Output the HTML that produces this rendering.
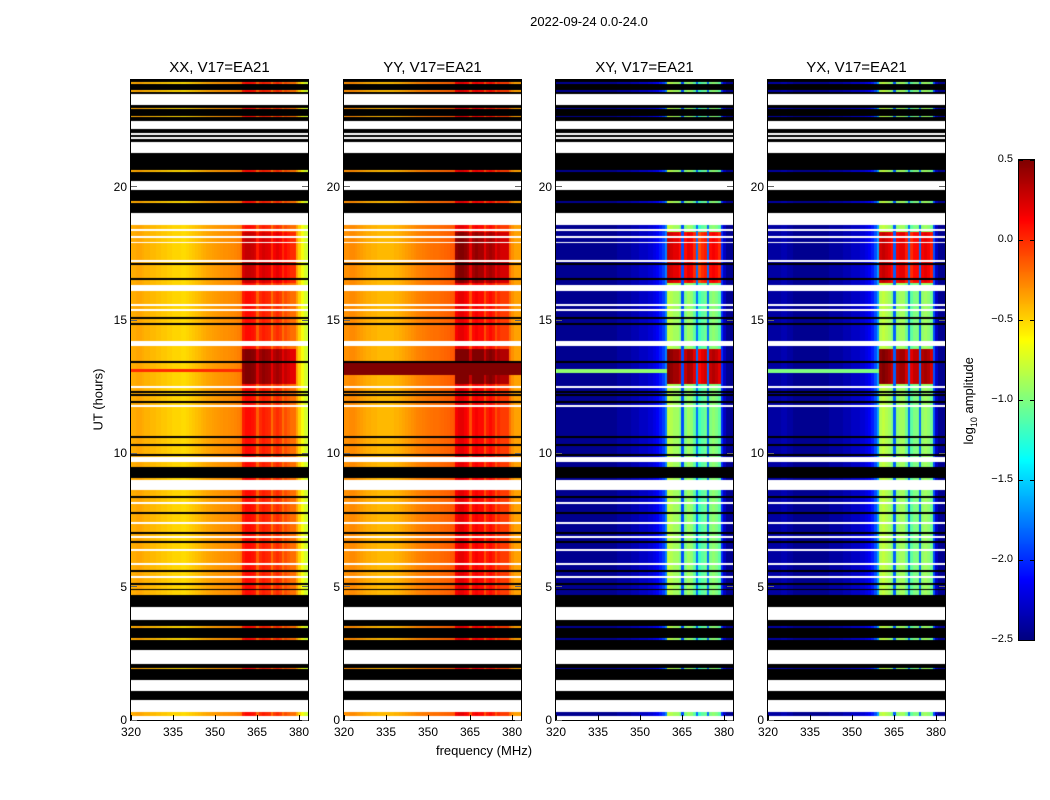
<!DOCTYPE html>
<html><head><meta charset="utf-8">
<style>
body{margin:0;background:#fff;font-family:"Liberation Sans","DejaVu Sans",sans-serif;}
#root{position:relative;width:1050px;height:800px;overflow:hidden;background:#fff;}
.t{position:absolute;white-space:nowrap;color:#000;}
canvas{position:absolute;}
.frame{position:absolute;border:1px solid #000;box-sizing:border-box;}
</style></head>
<body>
<div id="root">
<div class="t" style="left:489px;top:14px;width:200px;text-align:center;font-size:13px;">2022-09-24 0.0-24.0</div>
<div class="t" style="left:48px;top:392px;width:100px;text-align:center;font-size:13px;transform:rotate(-90deg);">UT (hours)</div>
<div class="t" style="left:384px;top:743px;width:200px;text-align:center;font-size:13px;">frequency (MHz)</div>
<div class="t" style="left:910px;top:392px;width:120px;text-align:center;font-size:13px;transform:rotate(-90deg);">log<sub style="font-size:9px">10</sub> amplitude</div>
</div>
<script>
// ---- data ----
const freqStart = 320; // MHz of channel 0, 1 MHz channels
const bandLo = 360, bandHi = 378;
const panelTitles = ["XX, V17=EA21","YY, V17=EA21","XY, V17=EA21","YX, V17=EA21"];
const specXX = [-0.38,-0.38,-0.36,-0.36,-0.38,-0.40,-0.40,-0.42,-0.42,-0.44,-0.44,-0.46,-0.46,-0.48,-0.48,
 -0.5,-0.5,-0.5,-0.52,-0.52,-0.5,-0.48,-0.46,-0.44,-0.42,-0.40,-0.38,-0.36,-0.35,
 -0.34,-0.33,-0.32,-0.31,-0.3,-0.3,-0.29,-0.28,-0.27,-0.25,-0.22,
 0.05,0.1,0.1,0.08,0.05,-0.15,0.0,0.05,0.02,0.0,-0.2,-0.05,0.0,-0.05,-0.2,-0.1,-0.15,-0.2,-0.2,
 -0.35,-0.5,-0.65,-0.75,-0.8];
const specYY = [-0.3,-0.3,-0.28,-0.28,-0.3,-0.32,-0.34,-0.36,-0.38,-0.38,-0.4,-0.4,-0.42,-0.42,-0.42,
 -0.42,-0.42,-0.42,-0.4,-0.4,-0.38,-0.36,-0.34,-0.32,-0.3,-0.28,-0.26,-0.25,-0.24,
 -0.23,-0.22,-0.21,-0.2,-0.2,-0.19,-0.18,-0.17,-0.16,-0.14,-0.12,
 0.15,0.2,0.2,0.15,0.1,-0.1,0.1,0.15,0.1,0.1,-0.1,0.05,0.1,0.05,-0.1,0.0,-0.05,-0.05,-0.05,
 -0.2,-0.3,-0.35,-0.35,-0.35];
const specXY = [-2.45,-2.45,-2.45,-2.45,-2.45,-2.45,-2.45,-2.45,-2.45,-2.45,-2.45,-2.45,-2.45,-2.45,-2.45,
 -2.45,-2.45,-2.45,-2.45,-2.45,-2.45,-2.45,-2.4,-2.4,-2.4,-2.4,-2.4,-2.35,-2.35,
 -2.35,-2.3,-2.3,-2.3,-2.25,-2.25,-2.2,-2.15,-2.05,-1.95,-1.75,
 -0.8,-0.85,-0.9,-0.9,-1.0,-1.9,-1.0,-0.9,-0.95,-1.1,-1.8,-1.2,-1.1,-1.05,-1.8,-1.0,-0.95,-1.0,-1.1,
 -2.0,-2.3,-2.45,-2.45,-2.45];
const specYX = [-2.4,-2.4,-2.4,-2.4,-2.4,-2.35,-2.35,-2.4,-2.4,-2.45,-2.45,-2.45,-2.45,-2.45,-2.45,
 -2.45,-2.45,-2.45,-2.45,-2.45,-2.45,-2.45,-2.4,-2.4,-2.4,-2.4,-2.4,-2.35,-2.35,
 -2.35,-2.3,-2.3,-2.3,-2.25,-2.25,-2.2,-2.15,-2.05,-1.9,-1.65,
 -0.85,-0.8,-0.85,-0.9,-1.0,-1.85,-0.95,-0.9,-0.9,-1.05,-1.8,-1.1,-1.0,-1.0,-1.8,-0.95,-0.9,-0.95,-1.05,
 -1.9,-2.3,-2.45,-2.45,-2.45];
// hot windows (hours) and per-panel boosts of the band region
const hotStart = [16.4, 12.6];
const hotEnd   = [18.3, 13.9];
const hotXX = [0.2, 0.4];
const hotYY = [0.3, 0.4];
const hotXY = [1.1, 1.3];
const hotYX = [1.1, 1.3];
// full-row bright line (hours)
const lineStart = [13.05, 12.95, 13.0, 13.0];
const lineEnd   = [13.15, 13.45, 13.15, 13.15];
const lineLevel = [0.0, 0.5, -0.95, -1.0];
// time segments (hours): k=flagged black, w=no data white, d=data
const segStart = [23.47,23.06,22.46,22.16,21.66,21.26,20.22,19.88,19.0,18.56,
 18.33,18.07,17.87,17.17,17.07,16.5,16.1,15.53,15.34,15.04,14.82,14.03,13.39,12.46,12.27,12.16,11.89,11.75,10.58,10.28,9.91,9.67,9.07,8.62,
 8.33,8.11,7.73,7.36,6.98,6.83,6.64,6.34,5.82,5.56,5.33,5.06,4.86,4.24,3.75,2.6,2.1,1.5,1.1,0.75,0.3,0.0,
 23.86,23.55,22.9,22.6,21.95,21.8,20.55,19.4,4.72,3.45,3.0,2.55,1.9];
const segEnd = [24.0,23.47,23.06,22.46,22.16,21.66,21.26,20.22,19.88,19.0,
 18.41,18.14,17.94,17.24,17.14,16.57,16.3,15.6,15.41,15.11,14.89,14.2,13.46,12.53,12.34,12.23,11.96,11.83,10.65,10.35,9.98,9.86,9.49,9.0,
 8.4,8.18,7.8,7.43,7.05,6.9,6.71,6.41,5.89,5.63,5.4,5.14,4.93,4.69,4.24,3.75,2.6,2.1,1.5,1.1,0.75,0.15,
 23.92,23.61,22.96,22.66,22.0,21.85,20.61,19.46,4.78,3.51,3.06,2.61,1.96];
const segKind = ["k","w","k","w","k","w","k","w","k","w",
 "w","w","w","w","k","k","w","w","w","k","k","w","k","w","k","k","k","w","k","k","k","w","k","w",
 "k","w","k","w","k","w","k","w","w","k","w","k","k","k","w","k","w","k","w","k","w","w",
 "d","d","d","d","w","w","d","d","d","d","d","w","d"];
const xTicks = [320,335,350,365,380];
const yTicks = [0,5,10,15,20];
const cbTicks = [0.5,0.0,-0.5,-1.0,-1.5,-2.0,-2.5];
const cbLabels = ["0.5","0.0","\u22120.5","\u22121.0","\u22121.5","\u22122.0","\u22122.5"];

// ---- layout / scales ----
const root = document.getElementById('root');
const panelLeft = [131,344,556,768];
const PW = 177, PT = 80, PH = 640;
const fMin = 320, fMax = 320 + PW/42*15;
const vMin = -2.5, vMax = 0.5;
function xScale(f){ return (f - fMin)/(fMax - fMin)*PW; }
function yScale(h){ return PH - h/24*PH; }
function jet(v){
  let x = Math.max(0, Math.min(1, (v - vMin)/(vMax - vMin)));
  const c = t => Math.round(255*Math.max(0, Math.min(1, 1.5 - Math.abs(t))));
  return 'rgb('+c(4*x-3)+','+c(4*x-2)+','+c(4*x-1)+')';
}
const specs = [specXX, specYY, specXY, specYX];
const hots = [hotXX, hotYY, hotXY, hotYX];

function kindAt(h){
  let k = 'd';
  for (let i=0;i<segStart.length;i++) if (h>=segStart[i] && h<segEnd[i]) k = segKind[i];
  return k;
}
function addText(txt, name, css){
  const d = document.createElement('div');
  d.className = 't';
  d.textContent = txt;
  
  
  d.style.cssText = css;
  root.appendChild(d);
  return d;
}

for (let p=0;p<4;p++){
  const L = panelLeft[p];
  const cv = document.createElement('canvas');
  cv.width = PW; cv.height = PH;
  cv.style.left = L+'px'; cv.style.top = PT+'px';
  
  
  root.appendChild(cv);
  const ctx = cv.getContext('2d');
  const spec = specs[p], hot = hots[p];
  for (let y=0;y<PH;y++){
    const h = 24 - (y+0.5)/PH*24;
    const k = kindAt(h);
    if (k==='w'){ ctx.fillStyle='#fff'; ctx.fillRect(0,y,PW,1); continue; }
    if (k==='k'){ ctx.fillStyle='#000'; ctx.fillRect(0,y,PW,1); continue; }
    let boost = 0;
    for (let j=0;j<hotStart.length;j++) if (h>=hotStart[j] && h<hotEnd[j]) boost = hot[j];
    const onLine = h>=lineStart[p] && h<lineEnd[p];
    for (let c=0;c<spec.length;c++){
      const f = freqStart + c;
      let v = spec[c];
      if (f>=bandLo && f<=bandHi && v > (p<2 ? -0.5 : -1.5)) v += boost;
      if (onLine && (f<bandLo || p===1)) v = Math.max(v, lineLevel[p]);
      ctx.fillStyle = jet(v);
      const x0 = xScale(f), x1 = xScale(f+1);
      ctx.fillRect(Math.floor(x0), y, Math.ceil(x1)-Math.floor(x0), 1);
    }
  }
  const fr = document.createElement('div');
  fr.className = 'frame';
  
  
  fr.style.cssText = 'left:'+(L-1)+'px;top:'+(PT-1)+'px;width:'+(PW+2)+'px;height:'+(PH+2)+'px;';
  root.appendChild(fr);
  addText(panelTitles[p], 'panel-title-'+(p+1), 'left:'+(L-20)+'px;top:59px;width:'+(PW+40)+'px;text-align:center;font-size:15px;');
  xTicks.forEach(t=>{
    const x = L + xScale(t);
    const tk = document.createElement('div');
    
    
    tk.style.cssText = 'position:absolute;left:'+(x-0.5)+'px;top:'+(PT+PH-5)+'px;width:1px;height:5px;background:#000;';
    root.appendChild(tk);
    addText(String(t), 'x-tick-label', 'left:'+(x-20)+'px;top:'+(PT+PH+5)+'px;width:40px;text-align:center;font-size:12px;');
  });
  yTicks.forEach(t=>{
    const y = PT + yScale(t);
    ['l','r'].forEach(s=>{
      const tk = document.createElement('div');
      
      
      tk.style.cssText = 'position:absolute;left:'+(s==='l'?L:L+PW-6)+'px;top:'+(y-0.5)+'px;width:6px;height:1px;background:#666;';
      root.appendChild(tk);
    });
    addText(String(t), 'y-tick-label', 'left:'+(L-44)+'px;top:'+(y-7)+'px;width:40px;text-align:right;font-size:12px;');
  });
}

// colorbar
const cbX = 1019, cbY = 160, cbW = 15, cbH = 480;
const cb = document.createElement('canvas');
cb.width = cbW; cb.height = cbH;
cb.style.left = cbX+'px'; cb.style.top = cbY+'px';


root.appendChild(cb);
const cctx = cb.getContext('2d');
for (let y=0;y<cbH;y++){ cctx.fillStyle = jet(vMax - (y+0.5)/cbH*(vMax-vMin)); cctx.fillRect(0,y,cbW,1); }
const cbf = document.createElement('div');
cbf.className='frame';


cbf.style.cssText='left:'+(cbX-1)+'px;top:'+(cbY-1)+'px;width:'+(cbW+2)+'px;height:'+(cbH+2)+'px;';
root.appendChild(cbf);
cbTicks.forEach((t,i)=>{
  const y = cbY + (vMax - t)/(vMax-vMin)*cbH;
  ['l','r'].forEach(s=>{
    const tk = document.createElement('div');
    
    
    tk.style.cssText = 'position:absolute;left:'+(s==='l'?cbX:cbX+cbW-4)+'px;top:'+(y-0.5)+'px;width:4px;height:1px;background:#000;';
    root.appendChild(tk);
  });
  addText(cbLabels[i], 'colorbar-tick-label', 'left:'+(cbX-56)+'px;top:'+(y-7)+'px;width:50px;text-align:right;font-size:11px;');
});
</script>
</body></html>
